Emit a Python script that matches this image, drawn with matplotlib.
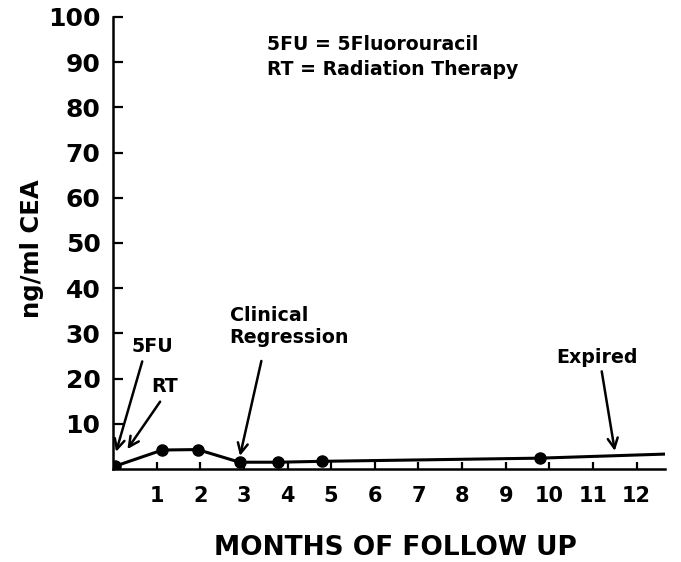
import numpy as np
import matplotlib.pyplot as plt

# CEA readings
months = [0.04, 1.13, 1.94, 2.9, 3.78, 4.8, 9.78, 12.65]
cea = [0.6, 4.2, 4.3, 1.5, 1.5, 1.7, 2.4, 3.3]
dot_months = months[:-1]
dot_cea = cea[:-1]

y_ticks = [10, 20, 30, 40, 50, 60, 70, 80, 90, 100]
x_ticks = [1, 2, 3, 4, 5, 6, 7, 8, 9, 10, 11, 12]

plt.rcParams['font.family'] = ['DejaVu Sans']
plt.rcParams['font.weight'] = 'bold'

fig = plt.figure(figsize=(6.81, 5.62), dpi=100)
ax = fig.add_axes([113/681, 1 - 469/562, 552/681, 452/562])

ax.plot(months, cea, color='black', lw=2.2, solid_capstyle='butt')
ax.plot(dot_months, dot_cea, 'o', color='black', ms=8)

ax.set_xlim(0, 12.65)
ax.set_ylim(0, 100)
ax.spines['top'].set_visible(False)
ax.spines['right'].set_visible(False)
ax.spines['left'].set_linewidth(1.8)
ax.spines['bottom'].set_linewidth(1.8)

ax.set_yticks(y_ticks)
ax.set_yticklabels([str(v) for v in y_ticks], fontsize=18, fontweight='bold')
ax.set_xticks(x_ticks)
ax.set_xticklabels([str(v) for v in x_ticks], fontsize=15, fontweight='bold')
ax.tick_params(axis='y', direction='in', length=7.5, width=1.6, pad=9)
ax.tick_params(axis='x', direction='in', length=5, width=1.6, pad=12)

fig.text(32/681, 1 - 249/562, 'ng/ml CEA', fontsize=17.5, fontweight='bold',
         rotation=90, ha='center', va='center')
fig.text(395/681, 1 - 548/562, 'MONTHS OF FOLLOW UP', fontsize=19, fontweight='bold',
         ha='center', va='center')

ax.text(3.53, 94.0, '5FU = 5Fluorouracil', fontsize=13.6, fontweight='bold', va='center')
ax.text(3.53, 88.3, 'RT = Radiation Therapy', fontsize=13.6, fontweight='bold', va='center')

arrow = dict(arrowstyle='->', color='black', lw=1.8, mutation_scale=18,
             shrinkA=0, shrinkB=0)
ax.text(0.9, 27.0, '5FU', fontsize=13.7, fontweight='bold', ha='center', va='center')
ax.annotate('', xy=(0.07, 3.8), xytext=(0.67, 23.8), arrowprops=arrow)
ax.text(1.18, 18.3, 'RT', fontsize=13.7, fontweight='bold', ha='center', va='center')
ax.annotate('', xy=(0.33, 4.4), xytext=(1.08, 14.9), arrowprops=arrow)
ax.text(2.67, 31.5, 'Clinical\nRegression', fontsize=13.7, fontweight='bold',
        ha='left', va='center', linespacing=1.15, multialignment='left')
ax.annotate('', xy=(2.91, 2.9), xytext=(3.4, 23.9), arrowprops=arrow)
ax.text(11.09, 24.7, 'Expired', fontsize=13.7, fontweight='bold', ha='center', va='center')
ax.annotate('', xy=(11.5, 4.0), xytext=(11.2, 21.6), arrowprops=arrow)

fig.savefig('out.png', dpi=100)
